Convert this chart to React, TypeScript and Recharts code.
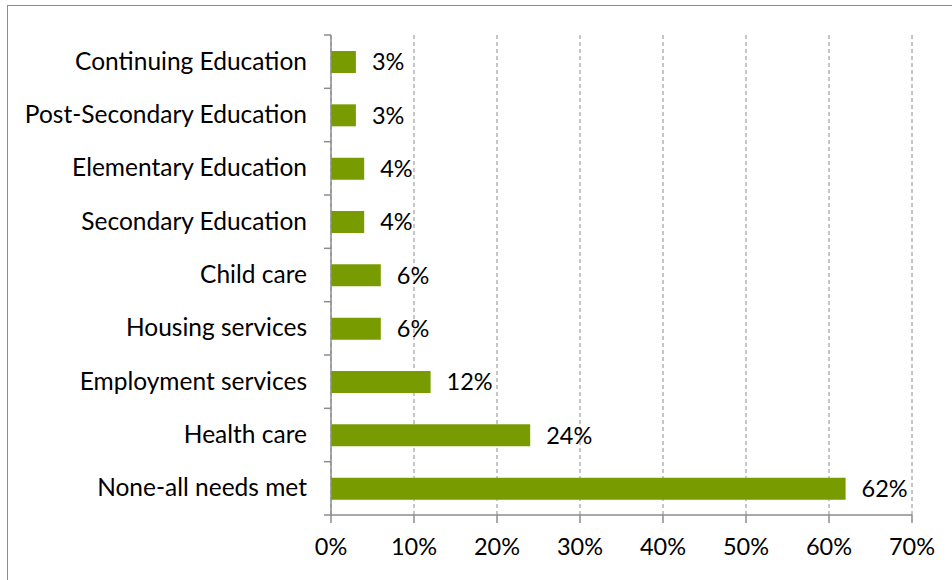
import { BarChart, Bar, XAxis, YAxis, CartesianGrid, LabelList } from "recharts";

const categories = [
  "Continuing Education",
  "Post-Secondary Education",
  "Elementary Education",
  "Secondary Education",
  "Child care",
  "Housing services",
  "Employment services",
  "Health care",
  "None-all needs met",
];
const shares = [3, 3, 4, 4, 6, 6, 12, 24, 62];
const xTicks = [0, 10, 20, 30, 40, 50, 60, 70];

const data = categories.map((name, i) => ({ name, value: shares[i] }));

const FONT = "Lato, 'Open Sans', sans-serif";
const AXIS = "#8c8c8c";
const BAND = 480 / categories.length;

function CategoryTick(props: any) {
  const { x, y, payload, index } = props;
  const top = y - BAND / 2;
  return (
    <g>
      <line x1={x + 1} x2={x + 8} y1={top} y2={top} stroke={AXIS} strokeWidth={1.5} />
      {index === categories.length - 1 && (
        <line x1={x + 1} x2={x + 8} y1={top + BAND} y2={top + BAND} stroke={AXIS} strokeWidth={1.5} />
      )}
      <text x={x - 16} y={y} dy={8} textAnchor="end" fill="#000" fontSize={24.5} fontFamily={FONT}>
        {payload.value}
      </text>
    </g>
  );
}

export default function App() {
  return (
    <div
      style={{
        position: "fixed",
        left: 0,
        top: 0,
        width: 952,
        height: 580,
        overflow: "hidden",
        background: "#fff",
      }}
    >
      <div
        style={{
          position: "absolute",
          left: 7,
          top: 5,
          width: 1000,
          height: 700,
          border: "1.5px solid #8c8c8c",
        }}
      />
      <div style={{ position: "absolute", left: 0, top: 0 }}>
        <BarChart
          width={952}
          height={580}
          data={data}
          layout="vertical"
          margin={{ top: 35, right: 40, bottom: 15, left: 0 }}
          barSize={22}
        >
          <CartesianGrid horizontal={false} stroke={AXIS} strokeDasharray="4 3" />
          <XAxis
            type="number"
            domain={[0, 70]}
            ticks={xTicks}
            tickFormatter={(v) => `${v}%`}
            height={50}
            stroke={AXIS}
            strokeWidth={1.5}
            tickSize={8}
            tickMargin={15}
            tick={{ fill: "#000", fontSize: 23.5, fontFamily: FONT }}
          />
          <YAxis
            type="category"
            dataKey="name"
            width={331}
            stroke={AXIS}
            strokeWidth={1.5}
            tickLine={false}
            tick={<CategoryTick />}
            interval={0}
          />
          <Bar dataKey="value" fill="#789c00" isAnimationActive={false}>
            <LabelList
              dataKey="value"
              position="right"
              offset={16}
              formatter={(v: any) => `${v}%`}
              fill="#000"
              fontSize={23.5}
              fontFamily={FONT}
            />
          </Bar>
        </BarChart>
      </div>
    </div>
  );
}
